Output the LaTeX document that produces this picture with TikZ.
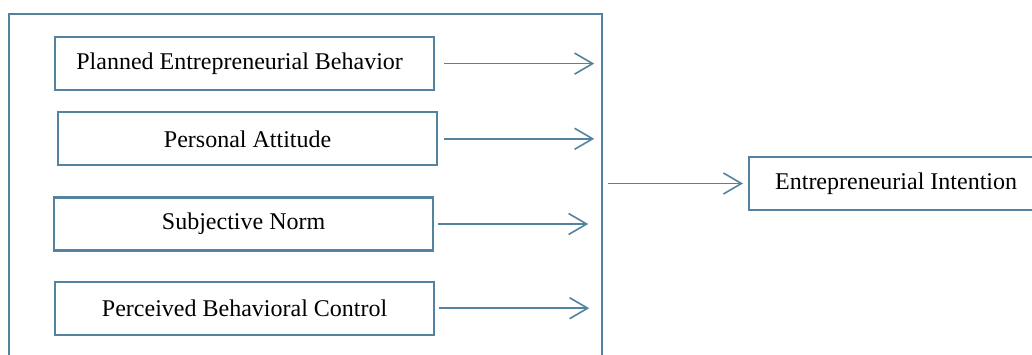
\documentclass[tikz,border=0pt]{standalone}
\usepackage{fontspec}
\setmainfont{Liberation Serif}
\usepackage{tikz}
\usetikzlibrary{arrows.meta,positioning}

\definecolor{steel}{RGB}{83,131,158}

\begin{document}
\begin{tikzpicture}[x=1pt, y=1pt, font=\fontsize{24}{28}\selectfont,
  factor/.style={draw=steel, line width=2.2pt, minimum width=379pt, minimum height=53pt, inner sep=0pt},
  arr/.style={draw=steel, line width=1.6pt, -{Straight Barb[length=18pt,width=21pt]}}]
  \useasboundingbox (0,0) rectangle (1032,-354);
  \clip (0,0) rectangle (1032,-354);

  % Outer frame (runs past the bottom edge)
  \node[draw=steel, line width=2.2pt, minimum width=593pt, minimum height=420pt, anchor=north west, inner sep=0pt] (frame) at (8,-12.7) {};

  % Factor boxes
  \node[factor, anchor=north west] (plan) at (54,-36) {Planned Entrepreneurial Behavior\hspace*{10pt}};
  \node[factor, below=20pt of plan, xshift=3pt] (att) {Personal Attitude};
  \node[factor, below=30pt of att, xshift=-4pt] (norm) {Subjective Norm};
  \node[factor, below=29pt of norm, xshift=1pt] (pbc) {Perceived Behavioral Control};

  % Outcome box (runs past the right edge)
  \node[factor, minimum width=294pt, anchor=west] (intent) at (748,-183.5) {Entrepreneurial Intention};

  % Arrows
  \draw[arr] ([xshift=9pt]plan.east) -- ([xshift=-9pt]plan.east -| frame.east);
  \draw[arr] ([xshift=6pt]att.east) -- ([xshift=-9pt]att.east -| frame.east);
  \draw[arr] ([xshift=4pt]norm.east) -- ([xshift=-15pt]norm.east -| frame.east);
  \draw[arr] ([xshift=4pt]pbc.east) -- ([xshift=-14pt]pbc.east -| frame.east);
  \draw[arr] ([xshift=5pt]frame.east |- intent.west) -- ([xshift=-5pt]intent.west);
\end{tikzpicture}
\end{document}
